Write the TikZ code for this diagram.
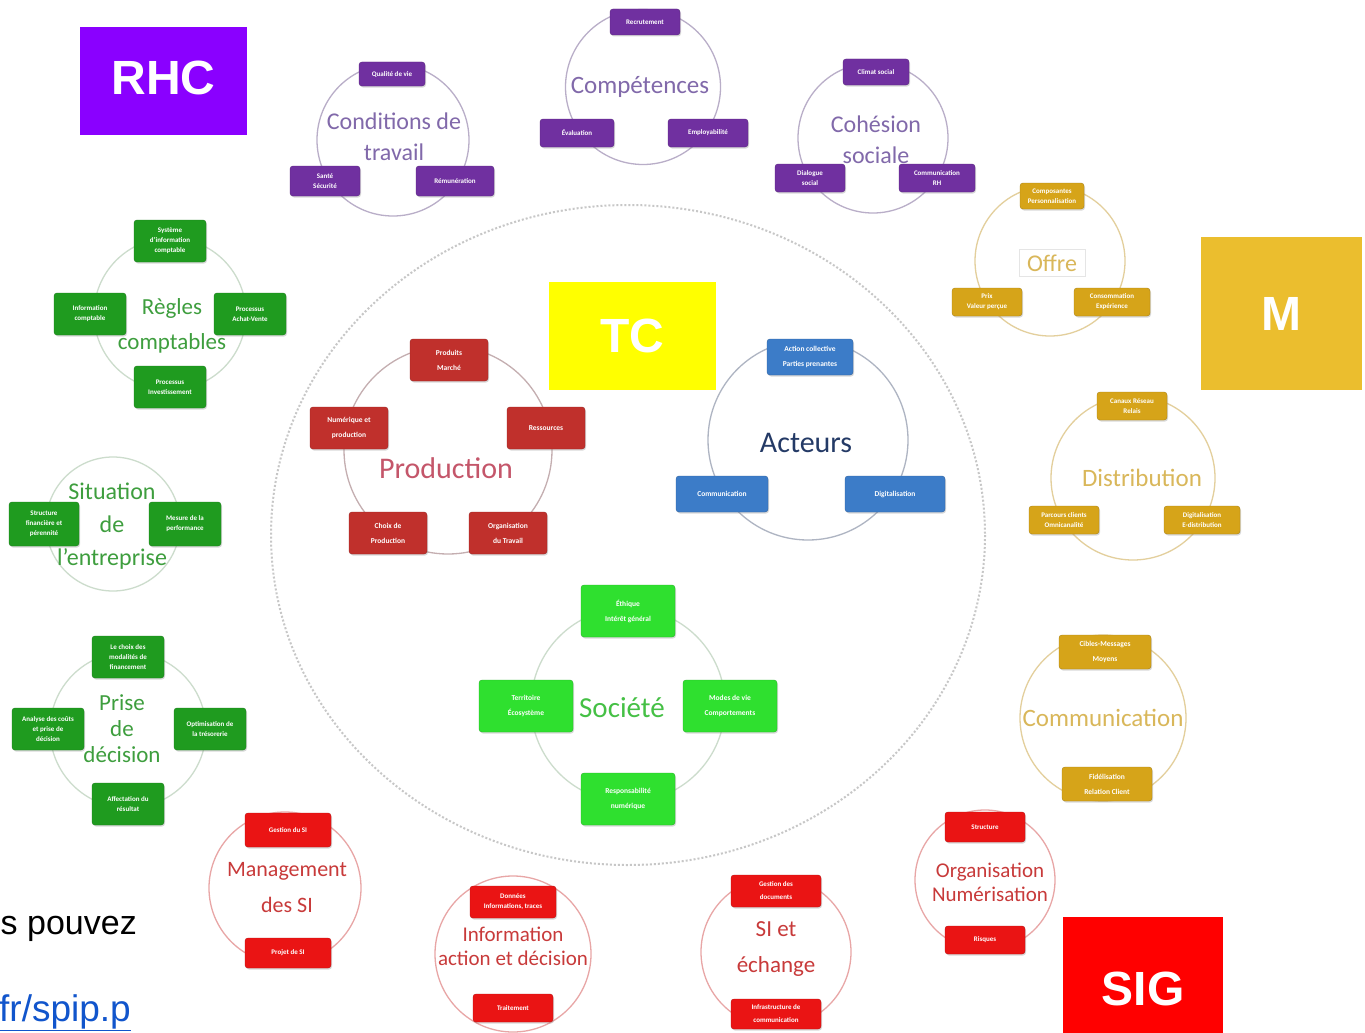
\documentclass[tikz,border=0pt]{standalone}
\usepackage{fontspec}
\setmainfont{Carlito}
\newfontfamily\arialfont{Liberation Sans}
\usetikzlibrary{shadows}

\definecolor{rhcviolet}{HTML}{8A00FF}
\definecolor{tcyellow}{HTML}{FFFF00}
\definecolor{mgold}{HTML}{EBBE2E}
\definecolor{sigred}{HTML}{FF0000}
\definecolor{vio}{HTML}{7030A0}
\definecolor{viotxt}{HTML}{8169AA}
\definecolor{viering}{HTML}{B9AEC8}
\definecolor{gold}{HTML}{D6A419}
\definecolor{goldtxt}{HTML}{D9B75A}
\definecolor{goldring}{HTML}{E3CF9C}
\definecolor{dgreen}{HTML}{1F9B1F}
\definecolor{dgreentxt}{HTML}{3E9E3E}
\definecolor{lgreen}{HTML}{2FE02F}
\definecolor{lgreentxt}{HTML}{45C045}
\definecolor{greenring}{HTML}{CCDCCC}
\definecolor{prodred}{HTML}{C0302C}
\definecolor{prodtxt}{HTML}{C4566A}
\definecolor{prodring}{HTML}{C4AEB0}
\definecolor{actblue}{HTML}{3C7CC8}
\definecolor{acttxt}{HTML}{243A66}
\definecolor{actring}{HTML}{AEB4C2}
\definecolor{sired}{HTML}{EA1414}
\definecolor{sitxt}{HTML}{C83A3A}
\definecolor{siring}{HTML}{E8A6A6}
\definecolor{linkblue}{HTML}{1155CC}

\begin{document}
\begin{tikzpicture}[x=1pt,y=-1pt,
  ring/.style={circle, draw=#1, line width=1.3pt, inner sep=0pt},
  tag/.style={rectangle, rounded corners=3pt, fill=#1, draw=#1!80!black, text=white,
    align=center, inner sep=1pt, font=\fontsize{7}{10}\bfseries\selectfont,
    drop shadow={opacity=0.3, shadow xshift=1pt, shadow yshift=-1.5pt}},
  widetag/.style={tag=#1, font=\fontsize{7.5}{15}\bfseries\selectfont},
  title/.style={text=#1, align=center, font=\fontsize{24}{31}\selectfont},
  badge/.style={rectangle, fill=#1, text=white, inner sep=0pt,
    font=\arialfont\fontsize{48}{48}\bfseries\selectfont}]
\useasboundingbox[fill=white] (0,0) rectangle (1365,1033);

%draw dotted frame
\draw[black!22, line width=2pt, dotted] (628,535) ellipse [x radius=357, y radius=330];

%draw rings
\node[ring=viering, minimum size=152pt] (condring) at (393,140) {};
\node[ring=viering, minimum size=155pt] (compring) at (643,87) {};
\node[ring=viering, minimum size=150pt] (coheRing) at (873,138) {};
\node[ring=goldring, minimum size=150pt] (offrering) at (1050,261) {};
\node[ring=greenring, minimum size=152pt] (reglesring) at (170,314) {};
\node[ring=greenring, minimum size=134pt] (situring) at (113,524) {};
\node[ring=greenring, minimum size=156pt] (prisering) at (128,730) {};
\node[ring=prodring, minimum size=208pt] (prodring) at (448,450) {};
\node[ring=actring, minimum size=200pt] (actring) at (808,440) {};
\node[ring=goldring, minimum size=164pt] (distring) at (1133,478) {};
\node[ring=goldring, minimum size=166pt] (commring) at (1103,718) {};
\node[ring=greenring, minimum size=194pt] (socring) at (628,705) {};
\node[ring=siring, minimum size=152pt] (mgmtring) at (285,888) {};
\node[ring=siring, minimum size=156pt] (inforing) at (513,954) {};
\node[ring=siring, minimum size=150pt] (siring) at (776,952) {};
\node[ring=siring, minimum size=140pt] (orgaring) at (985,880) {};

%draw titles
\node[title=viotxt] (cond) at (394,137) {Conditions de\\travail};
\node[title=viotxt, font=\fontsize{25}{31}\selectfont] (comp) at (640,87) {Compétences};
\node[title=viotxt] (cohe) at (876,140) {Cohésion\\sociale};
\node[title=goldtxt, draw=black!10, inner xsep=8pt, inner ysep=5pt] (offre) at (1052,263) {Offre};
\node[title=dgreentxt, font=\fontsize{23}{35}\selectfont] (regles) at (172,326) {Règles\\comptables};
\node[title=dgreentxt, font=\fontsize{24}{33}\selectfont] (situ) at (112,526) {Situation\\de\\l’entreprise};
\node[title=dgreentxt, font=\fontsize{23}{26}\selectfont] (prise) at (122,729) {Prise\\de\\décision};
\node[title=prodtxt, font=\fontsize{30}{30}\selectfont] (prod) at (446,468) {Production};
\node[title=acttxt, font=\fontsize{30}{30}\selectfont] (act) at (806,443) {Acteurs};
\node[title=goldtxt, font=\fontsize{25}{25}\selectfont] (dist) at (1142,478) {Distribution};
\node[title=goldtxt, font=\fontsize{25}{25}\selectfont] (comm) at (1103,718) {Communication};
\node[title=lgreentxt, font=\fontsize{29}{29}\selectfont] (soc) at (622,708) {Société};
\node[title=sitxt, font=\fontsize{22}{36}\selectfont] (mgmt) at (287,888) {Management\\des SI};
\node[title=sitxt, font=\fontsize{21}{24}\selectfont] (info) at (513,946) {Information\\action et décision};
\node[title=sitxt, font=\fontsize{23}{36}\selectfont] (siech) at (776,949) {SI et\\échange};
\node[title=sitxt, font=\fontsize{21}{24}\selectfont] (orga) at (990,882) {Organisation\\Numérisation};

%draw purple boxes
\node[tag=vio, minimum width=66pt, minimum height=24pt] (qualite) at (392,74) {Qualité de vie};
\node[tag=vio, minimum width=70pt, minimum height=30pt] (sante) at (325,181) {Santé\\Sécurité};
\node[tag=vio, minimum width=78pt, minimum height=30pt] (remun) at (455,181) {Rémunération};
\node[tag=vio, minimum width=70pt, minimum height=26pt] (recrut) at (645,22) {Recrutement};
\node[tag=vio, minimum width=74pt, minimum height=28pt] (evalu) at (577,133) {Évaluation};
\node[tag=vio, minimum width=80pt, minimum height=28pt] (employ) at (708,133) {Employabilité};
\node[tag=vio, minimum width=66pt, minimum height=26pt] (climat) at (876,72) {Climat social};
\node[tag=vio, minimum width=70pt, minimum height=28pt] (dialog) at (810,178) {Dialogue\\social};
\node[tag=vio, minimum width=76pt, minimum height=28pt] (commrh) at (937,178) {Communication\\RH};

%draw gold boxes
\node[tag=gold, minimum width=64pt, minimum height=26pt] (compo) at (1052,196) {Composantes\\Personnalisation};
\node[tag=gold, minimum width=70pt, minimum height=28pt] (prix) at (987,302) {Prix\\Valeur perçue};
\node[tag=gold, minimum width=76pt, minimum height=28pt] (conso) at (1112,302) {Consommation\\Expérience};
\node[tag=gold, minimum width=70pt, minimum height=28pt] (canaux) at (1132,406) {Canaux Réseau\\Relais};
\node[tag=gold, minimum width=70pt, minimum height=28pt] (parcours) at (1064,520) {Parcours clients\\Omnicanalité};
\node[tag=gold, minimum width=76pt, minimum height=28pt] (edist) at (1202,520) {Digitalisation\\E-distribution};
\node[widetag=gold, minimum width=92pt, minimum height=34pt] (cibles) at (1105,652) {Cibles-Messages\\Moyens};
\node[widetag=gold, minimum width=90pt, minimum height=34pt] (fidel) at (1107,784) {Fidélisation\\Relation Client};

%draw dark green boxes
\node[tag=dgreen, minimum width=72pt, minimum height=42pt] (sic) at (170,241) {Système\\d’information\\comptable};
\node[tag=dgreen, minimum width=72pt, minimum height=42pt] (infocpt) at (90,314) {Information\\comptable};
\node[tag=dgreen, minimum width=72pt, minimum height=42pt] (achat) at (250,314) {Processus\\Achat-Vente};
\node[tag=dgreen, minimum width=72pt, minimum height=42pt] (invest) at (170,387) {Processus\\Investissement};
\node[tag=dgreen, minimum width=70pt, minimum height=44pt] (struct) at (44,524) {Structure\\financière et\\pérennité};
\node[tag=dgreen, minimum width=72pt, minimum height=44pt] (mesure) at (185,524) {Mesure de la\\performance};
\node[tag=dgreen, minimum width=72pt, minimum height=42pt] (choix) at (128,657) {Le choix des\\modalités de\\financement};
\node[tag=dgreen, minimum width=72pt, minimum height=42pt] (couts) at (48,729) {Analyse des coûts\\et prise de\\décision};
\node[tag=dgreen, minimum width=72pt, minimum height=42pt] (treso) at (210,729) {Optimisation de\\la trésorerie};
\node[tag=dgreen, minimum width=72pt, minimum height=42pt] (affect) at (128,804) {Affectation du\\résultat};

%draw production boxes
\node[widetag=prodred, minimum width=78pt, minimum height=42pt] (produits) at (449,360) {Produits\\Marché};
\node[widetag=prodred, minimum width=78pt, minimum height=42pt] (numprod) at (349,428) {Numérique et\\production};
\node[widetag=prodred, minimum width=78pt, minimum height=42pt] (ressour) at (546,428) {Ressources};
\node[widetag=prodred, minimum width=78pt, minimum height=42pt] (choixprod) at (388,533) {Choix de\\Production};
\node[widetag=prodred, minimum width=78pt, minimum height=42pt] (orgtrav) at (508,533) {Organisation\\du Travail};

%draw acteurs boxes
\node[widetag=actblue, minimum width=86pt, minimum height=36pt] (action) at (810,357) {Action collective\\Parties prenantes};
\node[widetag=actblue, minimum width=92pt, minimum height=36pt] (commact) at (722,494) {Communication};
\node[widetag=actblue, minimum width=100pt, minimum height=36pt] (digit) at (895,494) {Digitalisation};

%draw societe boxes
\node[widetag=lgreen, minimum width=94pt, minimum height=52pt] (ethique) at (628,611) {Éthique\\Intérêt général};
\node[widetag=lgreen, minimum width=94pt, minimum height=52pt] (territ) at (526,706) {Territoire\\Écosystème};
\node[widetag=lgreen, minimum width=94pt, minimum height=52pt] (modes) at (730,706) {Modes de vie\\Comportements};
\node[widetag=lgreen, minimum width=94pt, minimum height=52pt] (respons) at (628,799) {Responsabilité\\numérique};

%draw SI boxes
\node[tag=sired, minimum width=86pt, minimum height=34pt] (gestsi) at (288,830) {Gestion du SI};
\node[tag=sired, minimum width=86pt, minimum height=30pt] (projsi) at (288,953) {Projet de SI};
\node[tag=sired, minimum width=86pt, minimum height=32pt] (donnees) at (513,902) {Données\\Informations, traces};
\node[tag=sired, minimum width=80pt, minimum height=28pt] (traite) at (513,1008) {Traitement};
\node[widetag=sired, font=\fontsize{7}{13}\bfseries\selectfont, minimum width=90pt, minimum height=32pt] (gestdoc) at (776,891) {Gestion des\\documents};
\node[widetag=sired, font=\fontsize{7}{13}\bfseries\selectfont, minimum width=90pt, minimum height=30pt] (infra) at (776,1014) {Infrastructure de\\communication};
\node[tag=sired, minimum width=80pt, minimum height=30pt] (structure) at (985,827) {Structure};
\node[tag=sired, minimum width=80pt, minimum height=28pt] (risques) at (985,940) {Risques};

%draw badges
\node[badge=rhcviolet, minimum width=167pt, minimum height=108pt] (rhc) at (163.5,81) {\raisebox{3pt}[\height][\depth]{RHC}};
\node[badge=tcyellow, minimum width=167pt, minimum height=108pt] (tc) at (632.5,336) {TC};
\node[badge=mgold, minimum width=161pt, minimum height=153pt] (m) at (1281.5,313.5) {M};
\node[badge=sigred, minimum width=160pt, minimum height=116pt] (sig) at (1143,975) {\raisebox{-14pt}[\height][\depth]{SIG}};

%draw cut text
\node[anchor=east, inner sep=0pt, font=\arialfont\fontsize{34}{34}\selectfont] (pouvez) at (137,929) {s pouvez};
\node[anchor=east, inner sep=0pt, text=linkblue, font=\arialfont\fontsize{37}{37}\selectfont] (lien) at (131,1013) {\underline{fr/spip.p}};
\end{tikzpicture}
\end{document}
